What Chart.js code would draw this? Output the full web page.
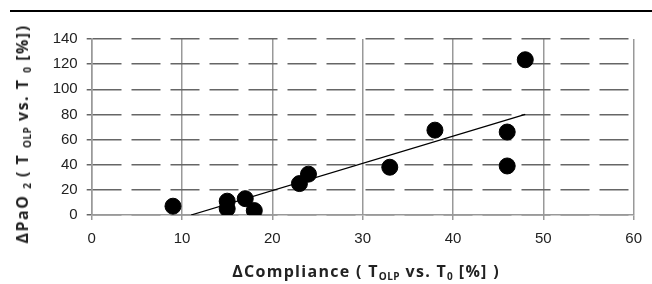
<!DOCTYPE html>
<html>
<head>
<meta charset="utf-8">
<script src="https://cdn.jsdelivr.net/npm/chart.js@4.4.1/dist/chart.umd.min.js"></script>
<style>
  html, body { margin: 0; padding: 0; background: #fff; }
  #wrap { position: relative; width: 652px; height: 284px; overflow: hidden; }
  #topRule { position: absolute; left: 10px; right: 0; top: 10px; height: 1.5px; background: #000; }
  .title { position: absolute; font-family: "Open Sans", sans-serif; font-weight: bold; font-size: 16px;
           color: #222; letter-spacing: 1.5px; white-space: nowrap; line-height: 1; }
  .title sub { font-size: 10px; vertical-align: -3px; letter-spacing: 0.5px; }
  #xTitle { left: 366px; top: 263px; transform: translateX(-50%); letter-spacing: 1.3px; }
  #yTitle { left: 23px; top: 134px; transform: translate(-50%, -50%) rotate(-90deg); }
  canvas { position: absolute; left: 0; top: 0; }
</style>
</head>
<body>
<div id="wrap">
  <div id="topRule"></div>
  <canvas id="chart" width="652" height="284"></canvas>
  <div class="title" id="yTitle">ΔPaO <sub>2</sub> ( T <sub>OLP</sub> vs. T <sub>0</sub> [%])</div>
  <div class="title" id="xTitle">ΔCompliance ( T<sub>OLP</sub> vs. T<sub>0</sub> [%] )</div>
</div>
<script>
// ΔCompliance (x) and ΔPaO2 (y)
const compliance = [9, 15, 15, 17, 18, 23, 24, 33, 38, 46, 46, 48];
const pao2 = [7, 11, 5, 13, 3.5, 25, 32.5, 38, 67.5, 66, 39, 123.5];

// linear trend line end points
const trendX = [11, 48];
const trendY = [0, 80];

const xTicks = [0, 10, 20, 30, 40, 50, 60];
const yTicks = [0, 20, 40, 60, 80, 100, 120, 140];

const tickFont = { family: "Liberation Sans, Arial, sans-serif", size: 15 };

new Chart(document.getElementById("chart"), {
  type: "scatter",
  data: {
    datasets: [
      {
        data: compliance.map((x, i) => ({ x: x, y: pao2[i] })),
        backgroundColor: "#000",
        borderColor: "#000",
        pointRadius: 8,
        pointHoverRadius: 8,
      },
      {
        type: "line",
        data: trendX.map((x, i) => ({ x: x, y: trendY[i] })),
        borderColor: "#000",
        borderWidth: 1.3,
        pointRadius: 0,
        fill: false,
      },
    ],
  },
  options: {
    responsive: false,
    animation: false,
    events: [],
    layout: { padding: { left: 40, right: 10, top: 39, bottom: 40 } },
    plugins: { legend: { display: false }, tooltip: { enabled: false } },
    scales: {
      x: {
        type: "linear",
        min: 0,
        max: 60,
        afterFit: (s) => { s.height = 29; },
        afterBuildTicks: (s) => { s.ticks = xTicks.map((v) => ({ value: v })); },
        ticks: { color: "#222", font: tickFont, padding: 10 },
        grid: { color: "#999", lineWidth: 1.5, tickLength: 5 },
        border: { color: "#999", width: 1.5 },
      },
      y: {
        min: 0,
        max: 140,
        afterFit: (s) => { s.width = 51.7; },
        afterBuildTicks: (s) => { s.ticks = yTicks.map((v) => ({ value: v })); },
        ticks: { color: "#222", font: tickFont, padding: 9 },
        grid: { color: "#666", lineWidth: 1.5, tickLength: 5, tickBorderDash: [] },
        // in v4 the grid-line dash lives under border.dash
        border: { color: "#999", width: 1.5, dash: [29, 10] },
      },
    },
  },
});
</script>
</body>
</html>
